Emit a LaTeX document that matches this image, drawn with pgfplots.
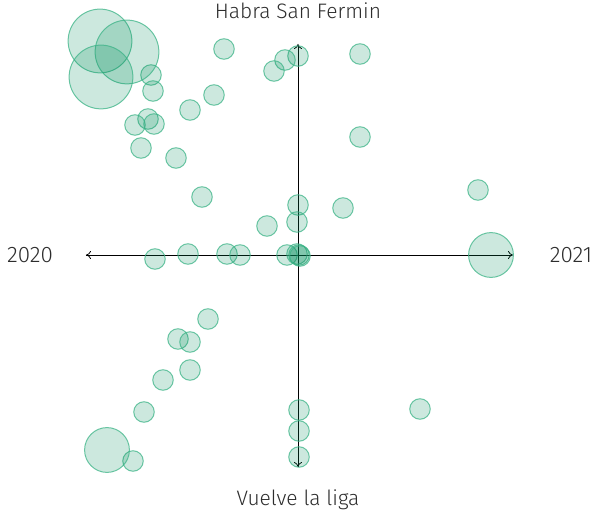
\documentclass[border=0pt]{standalone}
\usepackage{fontspec}
\setmainfont{Fira Sans Light}
\usepackage{pgfplots}
\pgfplotsset{compat=1.18}
\usepackage{pgfplotstable}
\usetikzlibrary{arrows.meta}
\definecolor{bubfill}{RGB}{0,140,90}
\definecolor{bubedge}{RGB}{60,180,135}
\definecolor{txt}{RGB}{45,45,45}

\pgfplotstableread{
x y
-147 180
-145 164
-74 206
-84 160
-108 145
-150 136
-163 130
-144 131
-157 107
-122 97
0 199
-13 195
-24 184
62 201
62 118
180 65
-96 58
0 50
-1 33
45 47
-31 29
-143 -4
-110 1
-71 1
-58 0
-11 0
-1 1
1 0
2 -1
-90 -64
-120 -84
-108 -87
-108 -115
-135 -125
-154 -157
-165 -206
1 -155
1 -176
1 -202
122 -154
}\small

\pgfplotstableread{
x y
193 0
-191 -195
}\medium

\pgfplotstableread{
x y
-198 214
-171 203
-197 178
}\large

\begin{document}
\begin{tikzpicture}
\begin{axis}[
  x=1bp, y=1bp,
  xmin=-212, xmax=215, ymin=-212, ymax=211,
  hide axis, clip=false,
  bub/.style={only marks, mark=*, mark options={fill=bubfill, fill opacity=0.2, draw=bubedge, draw opacity=0.75, line width=1bp}},
]
\draw[-{To[length=5bp,width=8bp]}, line width=0.8bp, black] (axis cs:-212,0) -- (axis cs:215,0);
\draw[{To[length=5bp,width=8bp]}-, line width=0.8bp, black] (axis cs:-212,0) -- (axis cs:-100,0);
\draw[-{To[length=5bp,width=8bp]}, line width=0.8bp, black] (axis cs:0,-212) -- (axis cs:0,211);
\draw[{To[length=5bp,width=8bp]}-, line width=0.8bp, black] (axis cs:0,-212) -- (axis cs:0,-100);
\addplot[bub, mark size=10.3] table {\small};
\addplot[bub, mark size=22.5] table {\medium};
\addplot[bub, mark size=32] table {\large};
\node[text=txt, font=\fontsize{22.5}{26}\selectfont] at (axis cs:-268,0) {2020};
\node[text=txt, font=\fontsize{22.5}{26}\selectfont] at (axis cs:273,0) {2021};
\node[text=txt, font=\fontsize{21}{25}\selectfont] at (axis cs:0,244) {Habra San Fermin};
\node[text=txt, font=\fontsize{21}{25}\selectfont] at (axis cs:0,-245) {Vuelve la liga};
\coordinate (bl) at (axis cs:-298,-257);
\coordinate (tr) at (axis cs:296,255);
\end{axis}
\pgfresetboundingbox
\path[use as bounding box] (bl) rectangle (tr);
\end{tikzpicture}
\end{document}
